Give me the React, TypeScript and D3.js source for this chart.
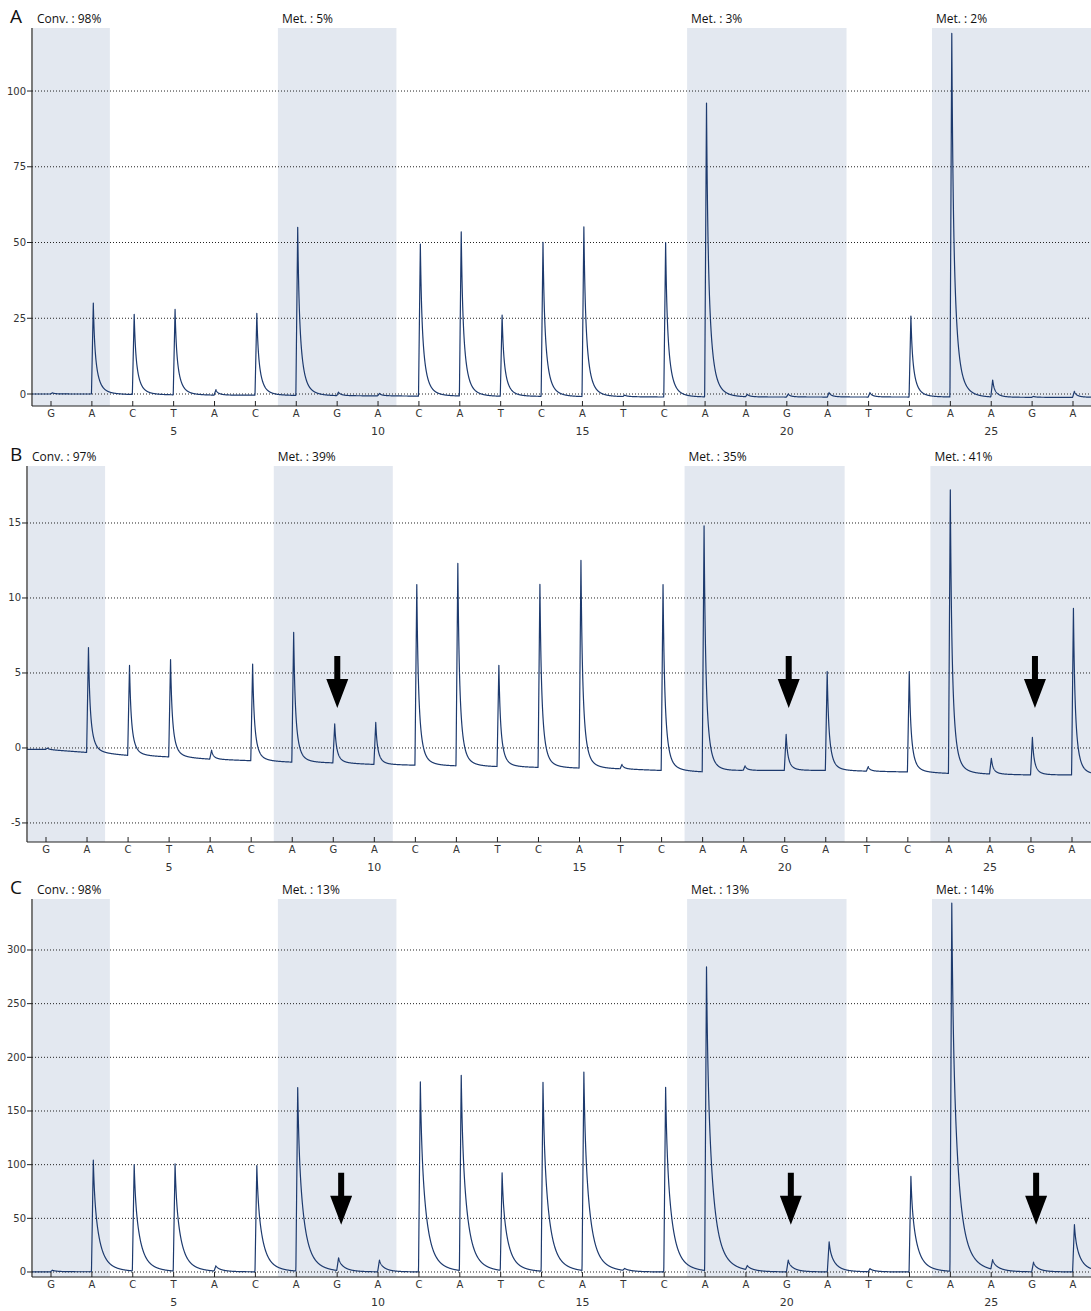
import React from "react";
import * as d3 from "d3";

// Dispensation order (dispensation numbers 2..27)
const dispensations = ["G","A","C","T","A","C","A","G","A","C","A","T","C","A","T","C","A","A","G","A","T","C","A","A","G","A"];
const firstNumber = 2;
const numberTicks = [5, 10, 15, 20, 25];

// Peak heights above the local baseline, one per dispensation
const heightsA = [0.4, 30, 26.5, 28.2, 1.8, 27, 55.5, 1.2, 0.8, 50.2, 54.2, 26.8, 50.8, 56, 0.5, 51, 97, 0.8, 1, 1.5, 1.5, 26.7, 120, 5.6, 0.3, 2];
const heightsB = [0.1, 7.0, 6.0, 6.5, 0.6, 6.45, 8.65, 2.6, 2.8, 12.05, 13.5, 6.75, 12.2, 13.85, 0.3, 12.4, 16.4, 0.3, 2.4, 6.6, 0.3, 6.7, 18.9, 1.05, 2.5, 11.1];
const heightsC = [1.5, 104, 99, 100, 5, 99, 171, 12, 11, 177, 182, 91, 176, 185, 2, 172, 283, 4, 11, 28, 3, 89, 343, 9, 9, 44];

// Baseline level at each dispensation
const baselineA = [0, 0, -0.2, -0.3, -0.4, -0.4, -0.5, -0.6, -0.6, -0.7, -0.7, -0.8, -0.8, -0.9, -0.9, -1, -1, -1, -1, -1, -1, -1, -1, -1.1, -1.1, -1.1];
const baselineB = [-0.1, -0.3, -0.5, -0.6, -0.75, -0.85, -0.95, -1.0, -1.1, -1.15, -1.2, -1.25, -1.3, -1.35, -1.4, -1.5, -1.6, -1.5, -1.5, -1.5, -1.55, -1.6, -1.7, -1.75, -1.8, -1.8];
const baselineC = [0.2, 0.2, 0.2, 0.1, 0.1, 0.1, 0.1, 0, 0, 0, 0, 0, 0, 0, 0, 0, 0, 0, 0, 0, 0, 0, 0, 0, 0, 0];

// y ticks
const yTicksA = [0, 25, 50, 75, 100];
const yTicksB = [-5, 0, 5, 10, 15];
const yTicksC = [0, 50, 100, 150, 200, 250, 300];

// Shaded regions (in dispensation-number units)
const regions = [[1.5, 3.44], [7.55, 10.45], [17.56, 21.46], [23.55, 28]];
const labelsA = ["Conv. : 98%", "Met. : 5%", "Met. : 3%", "Met. : 2%"];
const labelsB = ["Conv. : 97%", "Met. : 39%", "Met. : 35%", "Met. : 41%"];
const labelsC = ["Conv. : 98%", "Met. : 13%", "Met. : 13%", "Met. : 14%"];

// Arrows
const arrowPositions = [9, 20, 26];
const arrowTipB = 2.67;
const arrowTipC = 44;

const LINE = "#1d3a6e";
const SHADE = "#e3e8f0";
const RISE = 0.035;

// peak decay styles: [weight, time constant] pairs
type Shape = [number, number][];
const shapeA: Shape = [[0.3, 0.025], [0.55, 0.08], [0.15, 0.2]];
const shapeB: Shape = [[0.35, 0.025], [0.55, 0.07], [0.1, 0.2]];
const shapeC: Shape = [[0.2, 0.025], [0.6, 0.12], [0.2, 0.3]];

function peakShape(d: number, shape: Shape) {
  if (d < -0.01) return 0;
  if (d < RISE) return (d + 0.01) / (RISE + 0.01);
  const t = d - RISE;
  let s = 0;
  shape.forEach(([w, tau]) => { s += w * Math.exp(-t / tau); });
  return s;
}

type PanelProps = {
  id: string;
  letter: string;
  left: number; right: number; top: number; bottom: number;
  xRange: [number, number];
  yDomain: [number, number];
  heights: number[];
  baseline: number[];
  yTicks: number[];
  labels: string[];
  shape: Shape;
  arrowTip?: number;
};

function Panel(p: PanelProps) {
  const positions = dispensations.map((_, i) => i + firstNumber);
  const x = d3.scaleLinear().domain([firstNumber, firstNumber + dispensations.length - 1]).range(p.xRange);
  const y = d3.scaleLinear().domain(p.yDomain).range([p.bottom, p.top]);
  const base = d3.scaleLinear().domain(positions).range(p.baseline).clamp(true);
  const n0 = x.invert(p.left);
  const n1 = x.invert(p.right);
  const samples = d3.range(n0, n1, 0.004);
  positions.forEach((pos) => samples.push(pos + RISE));
  samples.sort((a, b) => a - b);
  const pts: [number, number][] = samples.map((n) => {
    let v = base(n);
    positions.forEach((pos, i) => {
      v += p.heights[i] * peakShape(n - pos, p.shape);
    });
    return [n, v];
  });
  const line = d3.line<[number, number]>().x((d) => x(d[0])).y((d) => y(d[1]));
  const clipId = "clip-" + p.id;
  return (
    <g>
      <defs>
        <clipPath id={clipId}>
          <rect x={p.left} y={p.top - 2} width={p.right - p.left} height={p.bottom - p.top + 2} />
        </clipPath>
      </defs>
      {regions.map((r, i) => {
        const x0 = Math.max(x(r[0]), p.left + 1);
        const x1 = Math.min(x(r[1]), p.right);
        return (
          <g key={"r" + i}>
            <rect x={x0} y={p.top} width={x1 - x0} height={p.bottom - p.top} fill={SHADE} />
            <text x={x0 + 4} y={p.top - 5} fontFamily="'Open Sans', 'Noto Sans', sans-serif" fontSize={12} fill="#111">
              {p.labels[i]}
            </text>
          </g>
        );
      })}
      {p.yTicks.map((t) => (
        <g key={"y" + t}>
          <line x1={p.left} x2={p.right} y1={y(t)} y2={y(t)} stroke="#222" strokeWidth={1} strokeDasharray="1,2" />
          <line x1={p.left - 5} x2={p.left} y1={y(t)} y2={y(t)} stroke="#222" strokeWidth={1} />
          <text x={p.left - 6} y={y(t)} dy="0.35em" textAnchor="end" fontFamily="'DejaVu Sans', sans-serif" fontSize={10} fill="#333">
            {t}
          </text>
        </g>
      ))}
      <path d={line(pts) || ""} fill="none" stroke={LINE} strokeWidth={1.2} strokeLinejoin="round" clipPath={`url(#${clipId})`} />
      <line x1={p.left} x2={p.left} y1={p.top} y2={p.bottom} stroke="#222" strokeWidth={1.2} />
      <line x1={p.left} x2={p.right} y1={p.bottom} y2={p.bottom} stroke="#222" strokeWidth={1.2} />
      {positions.map((pos, i) => (
        <g key={"x" + i}>
          <line x1={x(pos)} x2={x(pos)} y1={p.bottom} y2={p.bottom - 5} stroke="#222" strokeWidth={1} />
          <text x={x(pos)} y={p.bottom + 11} textAnchor="middle" fontFamily="'DejaVu Sans', sans-serif" fontSize={10} fill="#333">
            {dispensations[i]}
          </text>
        </g>
      ))}
      {numberTicks.map((n) => (
        <text key={"n" + n} x={x(n)} y={p.bottom + 29} textAnchor="middle" fontFamily="'DejaVu Sans', sans-serif" fontSize={11} fill="#333">
          {n}
        </text>
      ))}
      <text x={10} y={p.top - 5} fontFamily="'Open Sans', 'Noto Sans', sans-serif" fontSize={19} fill="#111">
        {p.letter}
      </text>
      {p.arrowTip !== undefined &&
        arrowPositions.map((n) => {
          const cx = x(n) + 4;
          const ty = y(p.arrowTip as number);
          const pts2 = [
            [cx - 3, ty - 52], [cx + 3, ty - 52], [cx + 3, ty - 29], [cx + 11, ty - 29],
            [cx, ty], [cx - 11, ty - 29], [cx - 3, ty - 29],
          ].map((q) => q.join(",")).join(" ");
          return <polygon key={"a" + n} points={pts2} fill="#000" />;
        })}
    </g>
  );
}

export default function App() {
  return (
    <svg width={1091} height={1311} style={{ position: "absolute", left: 0, top: 0, background: "#fff" }}>
      <rect x={0} y={0} width={1091} height={1311} fill="#fff" />
      <Panel id="A" letter="A" left={32} right={1091} top={28} bottom={406} xRange={[51, 1073]} yDomain={[-3.96, 120.8]}
        heights={heightsA} baseline={baselineA} yTicks={yTicksA} labels={labelsA} shape={shapeA} />
      <Panel id="B" letter="B" left={27} right={1091} top={466} bottom={842} xRange={[46, 1072]} yDomain={[-6.27, 18.8]}
        heights={heightsB} baseline={baselineB} yTicks={yTicksB} labels={labelsB} shape={shapeB} arrowTip={arrowTipB} />
      <Panel id="C" letter="C" left={32} right={1091} top={899} bottom={1277} xRange={[51, 1073]} yDomain={[-4.66, 347.5]}
        heights={heightsC} baseline={baselineC} yTicks={yTicksC} labels={labelsC} shape={shapeC} arrowTip={arrowTipC} />
    </svg>
  );
}
